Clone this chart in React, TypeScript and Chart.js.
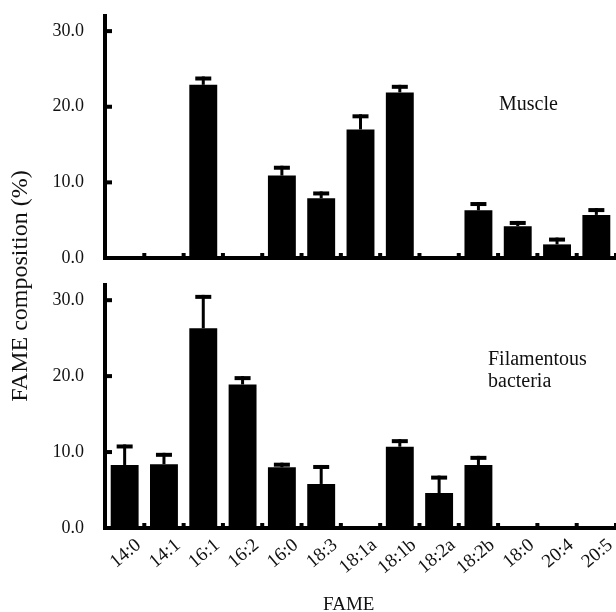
import React, { useEffect, useRef } from "react";
import { Chart, registerables } from "chart.js";

Chart.register(...registerables);

const categories = ["14:0", "14:1", "16:1", "16:2", "16:0", "18:3", "18:1a", "18:1b", "18:2a", "18:2b", "18:0", "20:4", "20:5"];
const muscleMean = [0, 0, 22.9, 0, 10.9, 7.9, 17.0, 21.9, 0, 6.3, 4.2, 1.8, 5.7];
const muscleSD = [0, 0, 1.1, 0, 1.3, 0.9, 2.0, 1.0, 0, 1.1, 0.7, 0.9, 0.9];
const bacteriaMean = [8.3, 8.4, 26.3, 18.9, 8.0, 5.8, 0, 10.7, 4.6, 8.3, 0, 0, 0];
const bacteriaSD = [2.7, 1.5, 4.4, 1.1, 0.6, 2.5, 0, 1.0, 2.3, 1.2, 0, 0, 0];
const yTicks = [0, 10, 20, 30];

const FONT = "'Liberation Serif', 'Times New Roman', serif";
const W = 616;
const H = 612;

function makeDecorPlugin(sd: number[], extra: (ctx: CanvasRenderingContext2D) => void) {
  return {
    id: "decor",
    afterDatasetsDraw(chart: any) {
      const ctx: CanvasRenderingContext2D = chart.ctx;
      const ys = chart.scales.y;
      const xs = chart.scales.x;
      const area = chart.chartArea;
      const meta = chart.getDatasetMeta(0);
      const data = chart.data.datasets[0].data as number[];
      ctx.save();
      ctx.fillStyle = "#000";
      // error bars
      data.forEach((v, i) => {
        const e = sd[i];
        if (!v) return;
        const bar = meta.data[i];
        const x = bar.x;
        const yv = ys.getPixelForValue(v);
        const ye = ys.getPixelForValue(v + e);
        ctx.fillRect(x - 1.5, ye, 3, yv - ye);
        ctx.fillRect(x - 8, ye, 16, 4);
      });
      // y tick marks (inward)
      yTicks.forEach((t) => {
        if (t === 0) return;
        const y = ys.getPixelForValue(t);
        ctx.fillRect(area.left, y - 2, 7, 4);
      });
      // x boundary nubs
      const half = (xs.getPixelForValue(1) - xs.getPixelForValue(0)) / 2;
      for (let k = 1; k <= categories.length; k++) {
        const x = xs.getPixelForValue(k - 1) + half;
        ctx.fillRect(x - 2, area.bottom - 5, 4, 4);
      }
      extra(ctx);
      ctx.restore();
    },
  };
}

function baseOptions(padTop: number, padBottom: number, xHeight: number, showX: boolean): any {
  return {
    responsive: false,
    animation: false,
    maintainAspectRatio: false,
    layout: { padding: { top: padTop, bottom: padBottom, left: 0, right: 0 } },
    plugins: { legend: { display: false }, tooltip: { enabled: false } },
    scales: {
      x: {
        type: "category",
        grid: { display: false, drawTicks: false },
        border: { display: true, width: 4, color: "#000" },
        ticks: {
          display: showX,
          autoSkip: false,
          minRotation: 40,
          maxRotation: 40,
          padding: 6,
          labelOffset: 14,
          color: "#111",
          font: { family: FONT, size: 19 },
        },
        afterFit: (s: any) => {
          s.height = xHeight;
          s.paddingLeft = 0;
          s.paddingRight = 0;
        },
      },
      y: {
        min: 0,
        max: 32,
        grid: { display: false, drawTicks: false },
        border: { display: true, width: 4, color: "#000" },
        afterBuildTicks: (s: any) => {
          s.ticks = yTicks.map((v) => ({ value: v }));
        },
        ticks: {
          padding: 21,
          color: "#111",
          font: { family: FONT, size: 18 },
          callback: (v: any) => Number(v).toFixed(1),
        },
        afterFit: (s: any) => {
          s.width = 105;
          s.paddingTop = 0;
          s.paddingBottom = 0;
        },
      },
    },
  };
}

export default function App() {
  const topRef = useRef<HTMLCanvasElement>(null);
  const botRef = useRef<HTMLCanvasElement>(null);

  useEffect(() => {
    const top = new Chart(topRef.current!, {
      type: "bar",
      data: {
        labels: categories,
        datasets: [
          {
            label: "Muscle",
            data: muscleMean,
            backgroundColor: "#000",
            borderWidth: 0,
            barPercentage: 0.71,
            categoryPercentage: 1,
          },
        ],
      },
      options: baseOptions(16, H - 258, 0, false),
      plugins: [
        makeDecorPlugin(muscleSD, (ctx) => {
          ctx.fillStyle = "#111";
          ctx.font = `20px ${FONT}`;
          ctx.textAlign = "left";
          ctx.textBaseline = "alphabetic";
          ctx.fillText("Muscle", 499, 110);
          ctx.save();
          ctx.translate(27, 286);
          ctx.rotate(-Math.PI / 2);
          ctx.textAlign = "center";
          ctx.font = `24px ${FONT}`;
          ctx.fillText("FAME composition (%)", 0, 0);
          ctx.restore();
        }),
      ],
    });
    const bot = new Chart(botRef.current!, {
      type: "bar",
      data: {
        labels: categories,
        datasets: [
          {
            label: "Filamentous bacteria",
            data: bacteriaMean,
            backgroundColor: "#000",
            borderWidth: 0,
            barPercentage: 0.71,
            categoryPercentage: 1,
          },
        ],
      },
      options: baseOptions(285, 0, H - 528, true),
      plugins: [
        makeDecorPlugin(bacteriaSD, (ctx) => {
          ctx.fillStyle = "#111";
          ctx.font = `20px ${FONT}`;
          ctx.textAlign = "left";
          ctx.textBaseline = "alphabetic";
          ctx.fillText("Filamentous", 488, 365);
          ctx.fillText("bacteria", 488, 387);
          ctx.font = `19px ${FONT}`;
          ctx.fillText("FAME", 323, 610);
        }),
      ],
    });
    return () => {
      top.destroy();
      bot.destroy();
    };
  }, []);

  return (
    <div style={{ position: "fixed", left: 0, top: 0, width: W, height: H, background: "#fff" }}>
      <canvas ref={topRef} width={W} height={H} style={{ position: "absolute", left: 0, top: 0 }} />
      <canvas ref={botRef} width={W} height={H} style={{ position: "absolute", left: 0, top: 0 }} />
    </div>
  );
}
